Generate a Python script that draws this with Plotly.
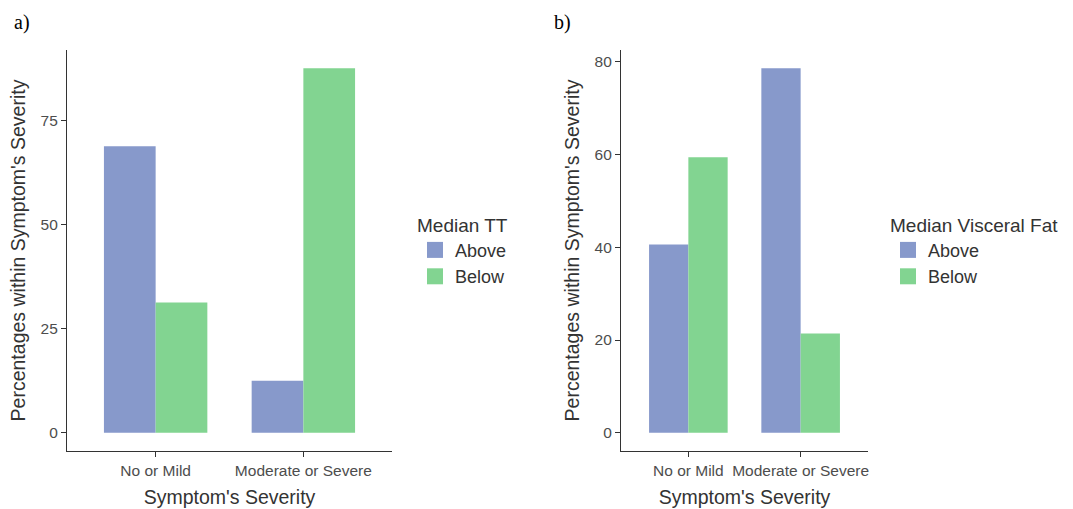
import plotly.graph_objects as go

categories = ["No or Mild", "Moderate or Severe"]
groups = ["Above", "Below"]

# Panel a) Median TT
tt_above = [68.75, 12.5]
tt_below = [31.25, 87.5]

# Panel b) Median Visceral Fat
vf_above = [40.6, 78.6]
vf_below = [59.4, 21.4]

ticks_a = [0, 25, 50, 75]
ticks_b = [0, 20, 40, 60, 80]

COL_ABOVE = "#8799cb"
COL_BELOW = "#82d491"
FONT = "Liberation Sans, Arial, sans-serif"
W, H = 1073, 509

fig = go.Figure()

def add_panel(xa, ya, above, below, legend):
    fig.add_trace(go.Bar(x=categories, y=above, name="Above", marker=dict(color=COL_ABOVE, line=dict(width=0)),
                         xaxis=xa, yaxis=ya, showlegend=False, legendgroup=legend + "A", offsetgroup="A"))
    fig.add_trace(go.Bar(x=categories, y=below, name="Below", marker=dict(color=COL_BELOW, line=dict(width=0)),
                         xaxis=xa, yaxis=ya, showlegend=False, legendgroup=legend + "B", offsetgroup="B"))
    # legend entries (larger square keys)
    for nm, col, grp in [("Above", COL_ABOVE, "A"), ("Below", COL_BELOW, "B")]:
        fig.add_trace(go.Scatter(x=[None], y=[None], mode="markers", name=nm,
                                 marker=dict(symbol="square", size=16, color=col),
                                 xaxis=xa, yaxis=ya, legend=legend, legendgroup=legend + grp,
                                 showlegend=True))

add_panel("x", "y", tt_above, tt_below, "legend")
add_panel("x2", "y2", vf_above, vf_below, "legend2")

ydom = [1 - 451 / H, 1 - 50 / H]

axis_common = dict(showline=True, linecolor="#333333", linewidth=1.1, ticks="outside", ticklen=5,
                   tickcolor="#333333", tickwidth=1.1, showgrid=False, zeroline=False,
                   tickfont=dict(family=FONT, size=15.5, color="#4d4d4d"),
                   title_font=dict(family=FONT, size=19.5, color="#333333"))

ymax_a = max(tt_above + tt_below)
ymax_b = max(vf_above + vf_below)

leg_title_font = dict(family=FONT, size=19, color="#333333")
leg_font = dict(family=FONT, size=18, color="#333333")

fig.update_layout(
    width=W, height=H,
    margin=dict(l=0, r=0, t=0, b=0),
    paper_bgcolor="white", plot_bgcolor="white",
    barmode="group", bargap=0.3, bargroupgap=0,
    font=dict(family=FONT, color="#333333"),
    xaxis=dict(domain=[67 / W, 392 / W], range=[-0.6, 1.6], anchor="y",
               title=dict(text="Symptom's Severity", standoff=12), **axis_common),
    yaxis=dict(domain=ydom, range=[-ymax_a * 0.05, ymax_a * 1.05], anchor="x", tickvals=ticks_a,
               title=dict(text="Percentages within Symptom's Severity", standoff=9), **axis_common),
    xaxis2=dict(domain=[621 / W, 868 / W], range=[-0.6, 1.6], anchor="y2",
                title=dict(text="Symptom's Severity", standoff=12), **axis_common),
    yaxis2=dict(domain=ydom, range=[-ymax_b * 0.05, ymax_b * 1.05], anchor="x2", tickvals=ticks_b,
                title=dict(text="Percentages within Symptom's Severity", standoff=9), **axis_common),
    legend=dict(x=415 / W, y=1 - 207 / H, xanchor="left", yanchor="top",
                title=dict(text="Median TT", font=leg_title_font, side="top"),
                font=leg_font, bgcolor="rgba(0,0,0,0)", itemsizing="trace", tracegroupgap=0),
    legend2=dict(x=888 / W, y=1 - 207 / H, xanchor="left", yanchor="top",
                 title=dict(text="Median Visceral Fat", font=leg_title_font, side="top"),
                 font=leg_font, bgcolor="rgba(0,0,0,0)", itemsizing="trace", tracegroupgap=0),
    annotations=[
        dict(text="a)", x=12 / W, y=1 - 22 / H, xref="paper", yref="paper", xanchor="left", yanchor="middle",
             showarrow=False, font=dict(family="Liberation Serif, Times New Roman, serif", size=20, color="#000000")),
        dict(text="b)", x=552 / W, y=1 - 22 / H, xref="paper", yref="paper", xanchor="left", yanchor="middle",
             showarrow=False, font=dict(family="Liberation Serif, Times New Roman, serif", size=20, color="#000000")),
    ],
)

fig.write_html("out.html", config={"displayModeBar": False},
               post_script="document.body.style.margin='0';document.body.style.padding='0';")
